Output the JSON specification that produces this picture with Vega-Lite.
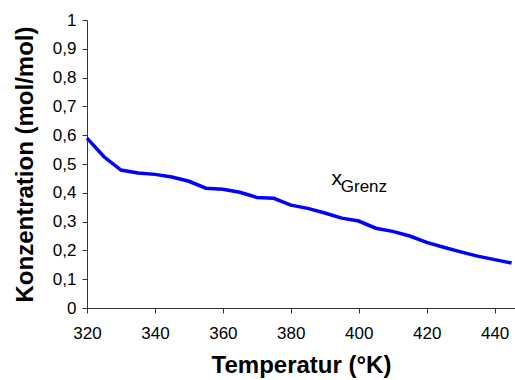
{
  "$schema": "https://vega.github.io/schema/vega-lite/v6.json",
  "autosize": "none",
  "width": 428,
  "height": 288,
  "padding": {"left": 87, "top": 20, "right": 0, "bottom": 72},
  "background": "white",
  "config": {
    "view": {"stroke": null},
    "font": "Liberation Sans",
    "axis": {"grid": false, "domainColor": "#333", "tickColor": "#333", "labelColor": "#000", "titleColor": "#000", "labelFont": "Liberation Sans", "titleFont": "Liberation Sans", "labelOverlap": false}
  },
  "datasets": {
    "curve": [
      {"T": 320, "x": 0.59},
      {"T": 325, "x": 0.525},
      {"T": 330, "x": 0.479},
      {"T": 335, "x": 0.469},
      {"T": 340, "x": 0.464},
      {"T": 345, "x": 0.455},
      {"T": 350, "x": 0.44},
      {"T": 355, "x": 0.416},
      {"T": 360, "x": 0.412},
      {"T": 365, "x": 0.402},
      {"T": 370, "x": 0.384},
      {"T": 375, "x": 0.381},
      {"T": 380, "x": 0.357},
      {"T": 385, "x": 0.346},
      {"T": 390, "x": 0.33},
      {"T": 395, "x": 0.312},
      {"T": 400, "x": 0.302},
      {"T": 405, "x": 0.277},
      {"T": 410, "x": 0.266},
      {"T": 415, "x": 0.25},
      {"T": 420, "x": 0.228},
      {"T": 425, "x": 0.211},
      {"T": 430, "x": 0.195},
      {"T": 435, "x": 0.18},
      {"T": 440, "x": 0.168},
      {"T": 445, "x": 0.156}
    ]
  },
  "layer": [
    {
      "data": {"name": "curve"},
      "mark": {"type": "line", "color": "#0000FF", "strokeWidth": 3.5},
      "encoding": {
        "x": {
          "field": "T", "type": "quantitative",
          "scale": {"domain": [320, 446], "nice": false, "zero": false},
          "axis": {
            "title": "Temperatur (°K)", "values": [320, 340, 360, 380, 400, 420, 440], "tickCount": 20,
            "labelFontSize": 17, "labelPadding": 12, "tickSize": 5,
            "titleFontSize": 24, "titleFontWeight": "bold", "titlePadding": 12,
            "labelFlush": false
          }
        },
        "y": {
          "field": "x", "type": "quantitative",
          "scale": {"domain": [0, 1], "nice": false},
          "axis": {
            "title": "Konzentration (mol/mol)",
            "values": [0, 0.1, 0.2, 0.3, 0.4, 0.5, 0.6, 0.7, 0.8, 0.9, 1], "tickCount": 20,
            "labelExpr": "replace(format(datum.value, '.1~f'), '.', ',')",
            "labelFontSize": 17, "labelPadding": 6, "tickSize": 5,
            "titleFontSize": 24, "titleFontWeight": "bold", "titlePadding": 15,
            "labelFlush": false
          }
        }
      }
    },
    {
      "data": {"values": [{"T": 392.0, "x": 0.427, "label": "x"}]},
      "mark": {"type": "text", "align": "left", "baseline": "alphabetic", "fontSize": 21, "color": "#000"},
      "encoding": {
        "x": {"field": "T", "type": "quantitative"},
        "y": {"field": "x", "type": "quantitative"},
        "text": {"field": "label"}
      }
    },
    {
      "data": {"values": [{"T": 394.7, "x": 0.404, "label": "Grenz"}]},
      "mark": {"type": "text", "align": "left", "baseline": "alphabetic", "fontSize": 17, "color": "#000"},
      "encoding": {
        "x": {"field": "T", "type": "quantitative"},
        "y": {"field": "x", "type": "quantitative"},
        "text": {"field": "label"}
      }
    }
  ]
}
